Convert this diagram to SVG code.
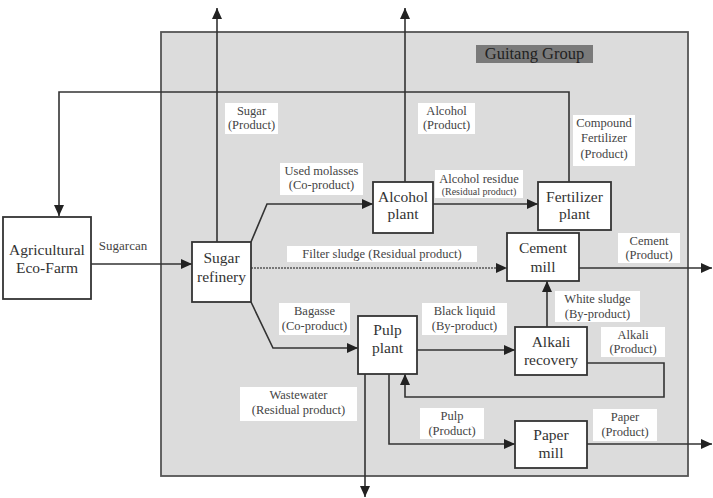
<svg xmlns="http://www.w3.org/2000/svg" width="713" height="498" viewBox="0 0 713 498">
<style>
.node rect{fill:#fff;stroke:#333;stroke-width:1.8}
.node text{font-family:"Liberation Serif",serif;font-size:15.5px;fill:#333;text-anchor:middle}
.lbl rect{fill:#fff;stroke:none}
.lbl text{font-family:"Liberation Serif",serif;font-size:12.5px;fill:#444;text-anchor:middle}
.conn path{fill:none;stroke:#333;stroke-width:1.6}
.arr{marker-end:url(#ah)}
</style>
<defs>
<marker id="ah" markerUnits="userSpaceOnUse" markerWidth="12" markerHeight="10" refX="11" refY="5" orient="auto">
<path d="M0,0 L11,5 L0,10 z" fill="#222"/>
</marker>
</defs>
<rect width="713" height="498" fill="#fff"/>
<g id="group">
<rect x="161" y="32" width="527" height="444" fill="#dcdcdc" stroke="#555" stroke-width="1.8"/>
<rect x="476" y="45" width="117" height="18" fill="#7a7a7a"/>
<text x="534.5" y="59" font-family="Liberation Serif,serif" font-size="16.5" fill="#222" text-anchor="middle">Guitang Group</text>
</g>
<g id="labels" class="lbl">
<rect x="225" y="103" width="53" height="31"/>
<text x="251.5" y="115">Sugar</text><text x="251.5" y="129">(Product)</text>
<rect x="418" y="103" width="57" height="31"/>
<text x="446.5" y="115">Alcohol</text><text x="446.5" y="129">(Product)</text>
<rect x="280" y="163" width="83" height="32"/>
<text x="321.5" y="175">Used molasses</text><text x="321.5" y="189">(Co-product)</text>
<rect x="435" y="170" width="88" height="28"/>
<text x="479" y="183">Alcohol residue</text><text x="479" y="195" style="font-size:10px">(Residual product)</text>
<rect x="573" y="115" width="62" height="51"/>
<text x="604" y="127">Compound</text><text x="604" y="142">Fertilizer</text><text x="604" y="158">(Product)</text>
<rect x="287" y="246" width="190" height="16"/>
<text x="382" y="258">Filter sludge (Residual product)</text>
<rect x="618" y="233" width="62" height="30"/>
<text x="649" y="245">Cement</text><text x="649" y="259">(Product)</text>
<rect x="555" y="291" width="85" height="31"/>
<text x="597.5" y="303">White sludge</text><text x="597.5" y="318">(By-product)</text>
<rect x="601" y="327" width="64" height="30"/>
<text x="633" y="339">Alkali</text><text x="633" y="353">(Product)</text>
<rect x="279" y="303" width="71" height="32"/>
<text x="314.5" y="315">Bagasse</text><text x="314.5" y="330">(Co-product)</text>
<rect x="422" y="303" width="85" height="32"/>
<text x="464.5" y="315">Black liquid</text><text x="464.5" y="330">(By-product)</text>
<rect x="240" y="387" width="117" height="34"/>
<text x="298.5" y="399">Wastewater</text><text x="298.5" y="414">(Residual product)</text>
<rect x="420" y="408" width="64" height="31"/>
<text x="452" y="420">Pulp</text><text x="452" y="435">(Product)</text>
<rect x="593" y="409" width="64" height="32"/>
<text x="625" y="421">Paper</text><text x="625" y="436">(Product)</text>
<text x="123" y="250" style="font-size:13px">Sugarcan</text>
</g>
<g id="connectors" class="conn">
<path class="arr" d="M569,182 V92 H59 V216"/>
<path class="arr" d="M91,264 H192"/>
<path class="arr" d="M217,242 V8"/>
<path class="arr" d="M405,182 V8"/>
<path class="arr" d="M251,242 L267,204 H373"/>
<path class="arr" d="M433,204 H538"/>
<path class="arr" d="M251,268 H507" style="stroke:#777;stroke-width:2;stroke-dasharray:2 1"/>
<path class="arr" d="M579,268 H712"/>
<path class="arr" d="M251,302 L273,348 H358"/>
<path class="arr" d="M417,350 H515"/>
<path class="arr" d="M547,327 V281"/>
<path class="arr" d="M587,363 H664 V397 H405 V374"/>
<path class="arr" d="M365,374 V497"/>
<path class="arr" d="M389,374 V444 H515"/>
<path class="arr" d="M587,444 H712"/>
</g>
<g id="farm" class="node">
<rect x="3" y="217" width="88" height="82"/>
<text x="47" y="255">Agricultural</text><text x="47" y="273">Eco-Farm</text>
</g>
<g id="sugar_refinery" class="node">
<rect x="192" y="242" width="59" height="60"/>
<text x="221.5" y="263">Sugar</text><text x="221.5" y="282">refinery</text>
</g>
<g id="alcohol_plant" class="node">
<rect x="373" y="182" width="60" height="51"/>
<text x="403" y="202">Alcohol</text><text x="403" y="219">plant</text>
</g>
<g id="fertilizer_plant" class="node">
<rect x="538" y="182" width="73" height="48"/>
<text x="574.5" y="202">Fertilizer</text><text x="574.5" y="219">plant</text>
</g>
<g id="cement_mill" class="node">
<rect x="507" y="233" width="72" height="48"/>
<text x="543" y="253">Cement</text><text x="543" y="272">mill</text>
</g>
<g id="pulp_plant" class="node">
<rect x="358" y="316" width="59" height="58"/>
<text x="387.5" y="335">Pulp</text><text x="387.5" y="353">plant</text>
</g>
<g id="alkali_recovery" class="node">
<rect x="515" y="327" width="72" height="48"/>
<text x="551" y="347">Alkali</text><text x="551" y="365">recovery</text>
</g>
<g id="paper_mill" class="node">
<rect x="515" y="421" width="72" height="47"/>
<text x="551" y="440">Paper</text><text x="551" y="458">mill</text>
</g>
</svg>
